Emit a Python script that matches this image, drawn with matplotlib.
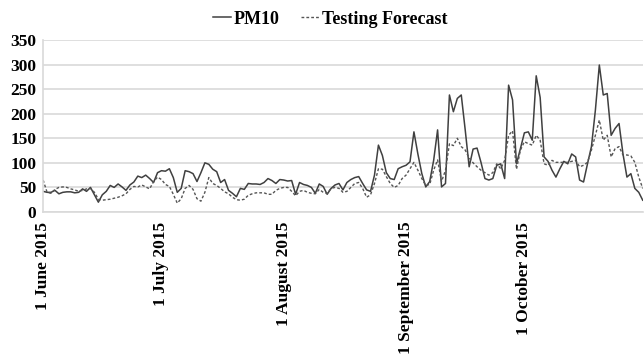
import numpy as np
import pandas as pd
import matplotlib
matplotlib.use("Agg")
import matplotlib.pyplot as plt
import matplotlib.dates as mdates

# daily values, 1 June 2015 - 31 October 2015
dates = pd.date_range("2015-06-01", "2015-10-31", freq="D")

pm10 = [
    42, 40, 40, 44, 37, 40, 41, 41, 39, 40,
    47, 42, 50, 35, 20, 35, 42, 54, 50, 57,
    51, 44, 55, 61, 73, 70, 75, 68, 60, 80,
    84, 83, 88, 70, 40, 48, 84, 82, 78, 62,
    80, 100, 97, 87, 82, 60, 66, 44, 38, 31,
    48, 46, 58, 57, 57, 56, 60, 68, 64, 58,
    66, 65, 63, 64, 36, 60, 56, 54, 50, 38,
    57, 52, 36, 48, 55, 58, 45, 60, 66, 70,
    72, 58, 45, 42, 75, 136, 115, 80, 68, 66,
    88, 92, 95, 102, 163, 118, 78, 51, 62, 105,
    167, 51, 58, 238, 204, 231, 238, 167, 92, 128,
    130, 101, 68, 65, 68, 95, 98, 68, 258, 228,
    98, 129, 161, 163, 146, 277, 233, 112, 103, 85,
    71, 88, 103, 98, 118, 112, 65, 61, 98, 133,
    207, 299, 238, 241, 156, 170, 180, 118, 71, 78,
    48, 40, 24,
]

forecast = [
    65, 40, 38, 46, 50, 51, 50, 47, 45, 42,
    44, 47, 48, 40, 26, 24, 25, 26, 28, 30,
    33, 37, 46, 52, 51, 55, 51, 47, 62, 71,
    66, 56, 52, 36, 18, 27, 48, 54, 46, 27,
    22, 40, 70, 58, 54, 48, 41, 37, 30, 25,
    24, 26, 34, 37, 39, 39, 39, 36, 36, 44,
    48, 50, 50, 42, 33, 42, 44, 40, 38, 37,
    46, 40, 38, 48, 50, 48, 40, 42, 50, 58,
    60, 48, 30, 35, 58, 88, 87, 72, 58, 50,
    54, 68, 75, 88, 101, 85, 68, 54, 56, 85,
    106, 62, 85, 139, 135, 150, 133, 126, 110, 100,
    92, 85, 80, 75, 80, 98, 88, 105, 156, 165,
    87, 126, 143, 139, 136, 156, 146, 98, 95, 105,
    101, 101, 101, 101, 103, 105, 92, 95, 101, 126,
    156, 187, 146, 156, 112, 129, 133, 116, 116, 114,
    101, 71, 48,
]

tick_dates = pd.to_datetime(["2015-06-01", "2015-07-01", "2015-08-01",
                             "2015-09-01", "2015-10-01"])
tick_labels = ["1 June 2015", "1 July 2015", "1 August 2015",
               "1 September 2015", "1 October 2015"]

plt.rcParams["font.family"] = ["Liberation Serif", "DejaVu Serif"]
plt.rcParams["font.weight"] = "bold"

fig = plt.figure(figsize=(6.44, 3.63), dpi=100)
ax = fig.add_axes([0.067, 0.416, 0.931, 0.474])

ax.plot(dates, pm10, color="#404040", lw=1.1, label="PM10")
ax.plot(dates, forecast, color="#555555", lw=1.0, dashes=(2, 1.5),
        label="Testing Forecast")

ax.set_ylim(0, 350)
ax.set_yticks(range(0, 351, 50))
ax.set_xlim(dates[0], dates[-1])
ax.set_xticks(tick_dates)
ax.set_xticklabels(tick_labels, rotation=90)

ax.grid(axis="y", color="#d9d9d9", lw=1.2)
ax.set_axisbelow(True)
for s in ["top", "right"]:
    ax.spines[s].set_visible(False)
for s in ["left", "bottom"]:
    ax.spines[s].set_color("#d9d9d9")
    ax.spines[s].set_linewidth(1.2)
ax.tick_params(length=0, labelsize=12.5)
ax.tick_params(axis="x", pad=7)
ax.tick_params(axis="y", pad=5)
for lab in ax.get_xticklabels() + ax.get_yticklabels():
    lab.set_fontweight("bold")

fig.legend(loc="upper center", bbox_to_anchor=(0.513, 1.015), ncol=2,
           frameon=False, handlelength=1.0, handletextpad=0.15,
           columnspacing=1.2, prop={"weight": "bold", "size": 13})

fig.savefig("out.png", dpi=100)
